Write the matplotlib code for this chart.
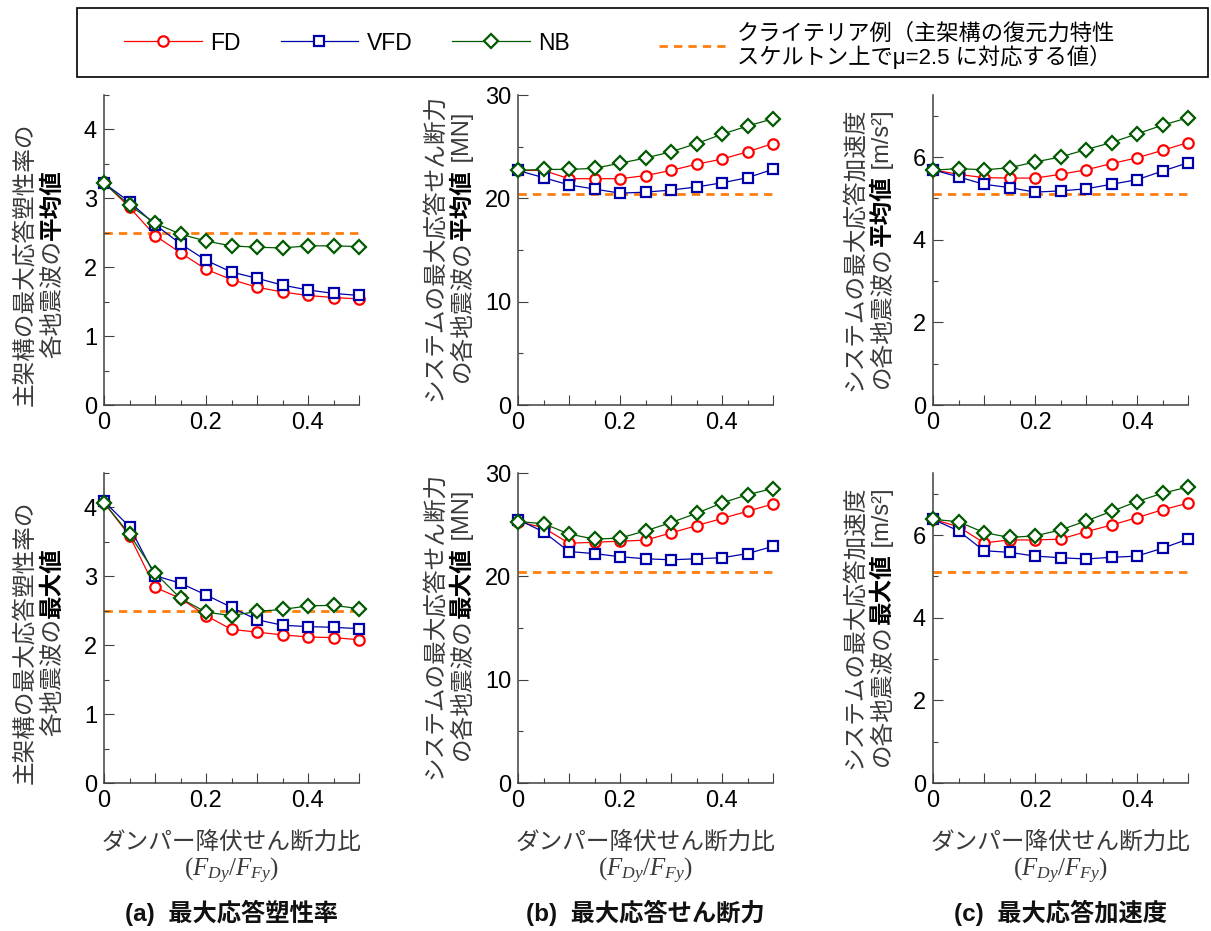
import matplotlib
matplotlib.use("Agg")
import matplotlib.pyplot as plt
from matplotlib.patches import Rectangle
from matplotlib.ticker import MultipleLocator, FixedLocator, FuncFormatter

plt.rcParams['font.family'] = ['Liberation Sans', 'Noto Sans CJK JP', 'DejaVu Sans']
plt.rcParams['mathtext.fontset'] = 'custom'
plt.rcParams['mathtext.rm'] = 'Liberation Serif'
plt.rcParams['mathtext.it'] = 'Liberation Serif:italic'

# damper yield shear force ratio F_Dy / F_Fy
ratio = [0, 0.05, 0.10, 0.15, 0.20, 0.25, 0.30, 0.35, 0.40, 0.45, 0.50]

# (a) max ductility - mean / maximum over ground motions
duct_mean_fd = [3.23, 2.87, 2.46, 2.21, 1.97, 1.82, 1.71, 1.64, 1.59, 1.56, 1.54]
duct_mean_vfd = [3.22, 2.95, 2.62, 2.34, 2.10, 1.93, 1.84, 1.74, 1.67, 1.62, 1.59]
duct_mean_nb = [3.22, 2.90, 2.64, 2.48, 2.38, 2.31, 2.29, 2.28, 2.31, 2.31, 2.30]
duct_max_fd = [4.07, 3.59, 2.84, 2.68, 2.43, 2.23, 2.19, 2.15, 2.12, 2.11, 2.08]
duct_max_vfd = [4.09, 3.72, 3.01, 2.90, 2.73, 2.55, 2.37, 2.29, 2.27, 2.26, 2.24]
duct_max_nb = [4.07, 3.61, 3.05, 2.68, 2.48, 2.43, 2.49, 2.52, 2.57, 2.58, 2.53]

# (b) max system shear force [MN]
shear_mean_fd = [22.7, 22.7, 21.9, 21.9, 21.9, 22.2, 22.7, 23.3, 23.8, 24.5, 25.3]
shear_mean_vfd = [22.7, 22.0, 21.3, 20.9, 20.5, 20.6, 20.8, 21.1, 21.5, 22.0, 22.8]
shear_mean_nb = [22.7, 22.8, 22.8, 22.9, 23.4, 23.9, 24.5, 25.3, 26.2, 27.0, 27.7]
shear_max_fd = [25.3, 24.7, 23.2, 23.3, 23.4, 23.5, 24.2, 24.9, 25.6, 26.3, 27.0]
shear_max_vfd = [25.5, 24.3, 22.4, 22.2, 21.9, 21.7, 21.6, 21.7, 21.8, 22.2, 22.9]
shear_max_nb = [25.3, 25.1, 24.1, 23.6, 23.7, 24.4, 25.2, 26.1, 27.1, 27.9, 28.5]

# (c) max system acceleration [m/s2]
acc_mean_fd = [5.69, 5.58, 5.50, 5.49, 5.49, 5.58, 5.69, 5.84, 5.98, 6.16, 6.35]
acc_mean_vfd = [5.69, 5.52, 5.34, 5.26, 5.15, 5.18, 5.23, 5.34, 5.45, 5.66, 5.86]
acc_mean_nb = [5.68, 5.72, 5.69, 5.74, 5.88, 6.00, 6.18, 6.35, 6.56, 6.77, 6.95]
acc_max_fd = [6.38, 6.20, 5.81, 5.88, 5.88, 5.90, 6.08, 6.24, 6.42, 6.61, 6.77]
acc_max_vfd = [6.38, 6.10, 5.62, 5.58, 5.49, 5.45, 5.42, 5.46, 5.49, 5.68, 5.90]
acc_max_nb = [6.38, 6.32, 6.06, 5.94, 5.98, 6.12, 6.34, 6.57, 6.81, 7.01, 7.16]

# criteria (mu = 2.5 on skeleton curve)
crit_duct = 2.5
crit_shear = 20.4
crit_acc = 5.1

series_names = ['FD', 'VFD', 'NB']
crit_label = 'クライテリア例（主架構の復元力特性\nスケルトン上でμ=2.5 に対応する値）'
xlabel_jp = 'ダンパー降伏せん断力比'
xlabel_sym = r'$(F_{Dy}/F_{Fy})$'
titles = ['(a)  最大応答塑性率', '(b)  最大応答せん断力', '(c)  最大応答加速度']

GRAY = '#3a3a3a'
styles = [dict(color='#ff0000', marker='o', ms=7.5),
          dict(color='#0000aa', marker='s', ms=7.5),
          dict(color='#005a00', marker='D', ms=7.2)]

panels = [
    # row, col, data, crit, ylim, major, minor, ylabel lines
    (0, 0, (duct_mean_fd, duct_mean_vfd, duct_mean_nb), crit_duct, 4.5, 1, 0.5,
     [[('主架構の最大応答塑性率の', False)], [('各地震波の', False), ('平均値', True)]]),
    (0, 1, (shear_mean_fd, shear_mean_vfd, shear_mean_nb), crit_shear, 30, 10, 5,
     [[('システムの最大応答せん断力', False)], [('の各地震波の', False), ('平均値', True), (' [MN]', False)]]),
    (0, 2, (acc_mean_fd, acc_mean_vfd, acc_mean_nb), crit_acc, 7.5, 2, 1,
     [[('システムの最大応答加速度', False)], [('の各地震波の', False), ('平均値', True), (' [m/s²]', False)]]),
    (1, 0, (duct_max_fd, duct_max_vfd, duct_max_nb), crit_duct, 4.5, 1, 0.5,
     [[('主架構の最大応答塑性率の', False)], [('各地震波の', False), ('最大値', True)]]),
    (1, 1, (shear_max_fd, shear_max_vfd, shear_max_nb), crit_shear, 30, 10, 5,
     [[('システムの最大応答せん断力', False)], [('の各地震波の', False), ('最大値', True), (' [MN]', False)]]),
    (1, 2, (acc_max_fd, acc_max_vfd, acc_max_nb), crit_acc, 7.5, 2, 1,
     [[('システムの最大応答加速度', False)], [('の各地震波の', False), ('最大値', True), (' [m/s²]', False)]]),
]

W, H = 1211, 931
fig = plt.figure(figsize=(W / 100, H / 100), dpi=100)

col_left = [104, 518, 933]
row_bottom = [405, 783]
ax_w, ax_h = 255, 310
label_x = [(31, 59), (441, 469), (861, 889)]
label_mid = [0.455, 0.508, 0.503]


def xfmt(v, pos):
    k = v / 0.2
    if abs(k - round(k)) > 1e-6:
        return ''
    return '0' if abs(v) < 1e-9 else f'{v:.1f}'


axes = []
handles = None
for row, col, data, crit, ymax, major, minor, ylab in panels:
    ax = fig.add_axes([col_left[col] / W, 1 - row_bottom[row] / H, ax_w / W, ax_h / H])
    crit_line = ax.axhline(crit, color='#ff7f0e', lw=2.0, dashes=(3, 2.2), zorder=1.5)
    lines = []
    for vals, name, st in zip(data, series_names, styles):
        ln, = ax.plot(ratio, vals, lw=0.9, mfc='white', mew=1.6, mec=st['color'],
                      clip_on=False, label=name, zorder=3, **st)
        lines.append(ln)
    if handles is None:
        handles = (lines, crit_line)
    ax.set_xlim(0, 0.5)
    ax.set_ylim(0, ymax)
    ax.xaxis.set_major_locator(FixedLocator([0, 0.1, 0.2, 0.3, 0.4, 0.5]))
    ax.xaxis.set_minor_locator(MultipleLocator(0.05))
    ax.xaxis.set_major_formatter(FuncFormatter(xfmt))
    ax.yaxis.set_major_locator(MultipleLocator(major))
    ax.yaxis.set_minor_locator(MultipleLocator(minor))
    for s in ['top', 'right']:
        ax.spines[s].set_visible(False)
    for s in ['left', 'bottom']:
        ax.spines[s].set_color('#404040')
        ax.spines[s].set_linewidth(1.1)
    ax.tick_params(which='major', direction='in', length=7, width=0.8, color='#404040',
                   labelsize=17, pad=5)
    ax.tick_params(which='minor', direction='in', length=3.5, width=0.8, color='#404040')
    ax.patch.set_alpha(0)
    axes.append((ax, row, col, ylab))

# x labels and panel titles
for col in range(3):
    cx = (col_left[col] + ax_w / 2) / W
    fig.text(cx, 1 - 843 / H, xlabel_jp, ha='center', va='center', fontsize=17, color=GRAY)
    fig.text(cx, 1 - 871 / H, xlabel_sym, ha='center', va='center', fontsize=18, color=GRAY)
    fig.text(cx, 1 - 913 / H, titles[col], ha='center', va='center', fontsize=17.5,
             fontweight='bold', color='#111111')

# rotated y labels built from pieces (normal + bold)
fig.canvas.draw()
renderer = fig.canvas.get_renderer()
for ax, row, col, ylab in axes:
    bb = ax.get_window_extent(renderer)
    ymid_px = bb.y0 + label_mid[col] * bb.height
    for segs, xpx in zip(ylab, label_x[col]):
        texts = []
        for s, bold in segs:
            t = fig.text(0, 0, s, rotation=90, rotation_mode='anchor', ha='left',
                         va='baseline', fontsize=17,
                         fontweight='bold' if bold else 'normal',
                         color='black' if bold else GRAY)
            texts.append(t)
        sizes = [t.get_window_extent(renderer).height for t in texts]
        y = ymid_px - sum(sizes) / 2
        for t, h in zip(texts, sizes):
            t.set_position((xpx / W, y / fig.bbox.height))
            y += h

# legend
fig.add_artist(Rectangle((77 / W, 1 - 77 / H), (1208 - 77) / W, 69 / H,
                         transform=fig.transFigure, fill=False, ec='black', lw=1.2))
lines, crit_line = handles
fig.legend(lines, series_names, ncol=3, loc='center left',
           bbox_to_anchor=(124 / W, 1 - 43 / H), frameon=False, borderpad=0,
           borderaxespad=0, handlelength=3.4, handletextpad=0.35, columnspacing=1.75,
           fontsize=16.5)
leg2 = fig.legend([crit_line], [crit_label], loc='center left',
                  bbox_to_anchor=(659 / W, 1 - 46 / H), frameon=False, borderpad=0,
                  borderaxespad=0, handlelength=3.1, handletextpad=0.4, fontsize=16)
for t in leg2.get_texts():
    t.set_linespacing(1.05)

fig.savefig('out.png', dpi=100)
